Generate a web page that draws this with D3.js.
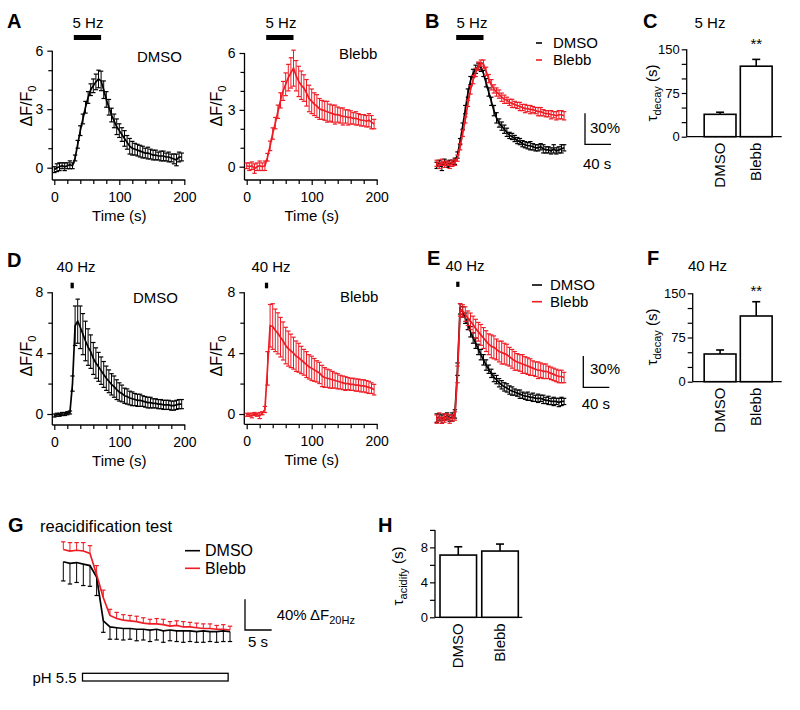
<!DOCTYPE html>
<html><head><meta charset="utf-8">
<script src="https://cdn.jsdelivr.net/npm/d3@7"></script>
<style>body{margin:0;background:#fff}svg{display:block}</style>
</head><body>
<script>
// ---------------- DATA ----------------
const time = [0,4,8,12,16,20,24,28,32,36,40,44,48,52,56,60,64,68,72,76,80,84,88,92,96,100,104,108,112,116,120,124,128,132,136,140,144,148,152,156,160,164,168,172,176,180,184,188,192,196];
// Panel A (dF/F0, 5 Hz)
const aDmso = [-0.1,0.0,0.05,0.1,0.05,0.1,0.15,0.1,0.5,1.2, 1.9,2.5,3.1,3.6,4.0,4.2,4.4,4.55,4.45,4.0, 3.5,3.1,2.7,2.4,2.1,1.9,1.7,1.5,1.3,1.1, 1.0,0.95,0.9,0.85,0.8,0.75,0.75,0.7,0.65,0.65, 0.6,0.6,0.6,0.55,0.55,0.5,0.45,0.4,0.55,0.55];
const aDmsoErr = [0.15,0.2,0.2,0.15,0.2,0.15,0.2,0.15,0.15,0.2, 0.25,0.25,0.3,0.3,0.3,0.35,0.4,0.45,0.5,0.45, 0.4,0.4,0.35,0.35,0.4,0.35,0.35,0.4,0.35,0.4, 0.35,0.3,0.3,0.3,0.3,0.25,0.3,0.25,0.25,0.25, 0.2,0.25,0.25,0.2,0.25,0.2,0.25,0.3,0.25,0.2];
const aBlebb = [0.05,0.0,0.05,-0.1,0.0,0.05,0.0,0.05,0.5,1.1, 1.75,2.3,2.9,3.5,4.0,4.35,4.7,4.95,5.2,4.8, 4.5,4.3,4.15,3.9,3.6,3.45,3.3,3.2,3.05,3.0, 2.95,2.9,2.85,2.8,2.75,2.75,2.7,2.65,2.65,2.6, 2.6,2.55,2.55,2.5,2.45,2.45,2.4,2.45,2.35,2.25];
const aBlebbErr = [0.15,0.2,0.2,0.25,0.2,0.25,0.2,0.25,0.2,0.25, 0.3,0.3,0.35,0.4,0.5,0.6,0.7,0.8,0.95,0.8, 0.8,0.75,0.7,0.7,0.7,0.65,0.6,0.6,0.55,0.5, 0.5,0.55,0.45,0.45,0.5,0.4,0.4,0.45,0.35,0.4, 0.35,0.3,0.35,0.3,0.3,0.3,0.3,0.35,0.35,0.25];
// Panel B (normalized %, 5 Hz)
const bDmso = [-2,0,-3,1,-1,0,1,2,8,21, 36,52,68,80,87,91,94,93,87,78, 69,60,51,44,39,36,33,30,27,26, 24,22,21,19,18,17,17,16,15,15, 16,14,13,13,12,14,12,13,14,15];
const bDmsoErr = [3,3,4,3,3,3,2,3,3,3, 3,4,4,4,4,4,3,4,3,4, 4,4,5,5,4,4,4,4,3,3, 3,3,3,3,3,3,4,3,3,3, 3,4,3,3,3,4,3,3,4,3];
const bBlebb = [0,-2,1,-1,0,-2,0,1,5,16, 29,42,58,71,81,88,94,97,96,89, 82,76,72,69,67,64,62,61,59,58, 57,56,55,54,53,53,52,52,51,50, 50,49,48,48,47,47,46,47,47,46];
const bBlebbErr = [3,3,3,3,2,3,3,3,3,3, 3,3,3,4,4,4,4,3,4,4, 4,5,4,4,4,4,4,3,3,4, 3,3,4,3,4,3,4,3,3,4, 4,3,3,3,4,3,4,4,4,4];
// Panel D (dF/F0, 40 Hz)
const dDmso = [-0.1,-0.05,-0.05,0,0,0.05,0.1,2.0,5.8,6.1, 5.7,5.25,4.8,4.4,4.1,3.65,3.35,3.1,2.85,2.6, 2.35,2.15,1.95,1.8,1.6,1.45,1.35,1.2,1.15,1.05, 1.0,0.95,0.9,0.9,0.85,0.8,0.75,0.75,0.7,0.7, 0.65,0.65,0.6,0.6,0.6,0.55,0.55,0.6,0.65,0.65];
const dDmsoErr = [0.1,0.1,0.1,0.1,0.1,0.1,0.1,0.5,1.3,1.45, 1.4,1.35,1.3,1.2,1.1,1.05,1.0,0.95,0.9,0.85, 0.8,0.75,0.7,0.7,0.65,0.6,0.55,0.5,0.5,0.45, 0.45,0.4,0.4,0.4,0.35,0.35,0.35,0.35,0.3,0.3, 0.3,0.3,0.3,0.3,0.3,0.3,0.3,0.3,0.3,0.3];
const dBlebb = [-0.05,-0.05,-0.1,0,-0.05,-0.1,0.05,0.3,3.0,5.8, 5.75,5.5,5.3,5.05,4.8,4.5,4.3,4.15,4.0,3.8, 3.7,3.55,3.4,3.25,3.1,3.0,2.9,2.8,2.7,2.5, 2.4,2.35,2.3,2.25,2.2,2.15,2.1,2.05,2.0,2.0, 1.95,1.95,1.9,1.9,1.85,1.85,1.8,1.75,1.7,1.6];
const dBlebbErr = [0.1,0.1,0.15,0.1,0.1,0.2,0.1,0.2,1.1,1.4, 1.5,1.4,1.35,1.3,1.25,1.2,1.15,1.1,1.05,1.0, 0.95,0.9,0.85,0.85,0.8,0.8,0.75,0.7,0.7,0.7, 0.65,0.6,0.6,0.55,0.5,0.5,0.45,0.45,0.45,0.4, 0.4,0.4,0.4,0.4,0.4,0.4,0.4,0.4,0.35,0.35];
// Panel E (normalized %, 40 Hz)
const eDmso = [-2,-1,-3,-1,0,-2,-1,2,45,103, 100,94,88,81,75,70,64,59,54,49, 45,41,37,35,32,30,28,27,25,24, 23,22,21,20,19,19,18,18,17,17, 17,16,15,15,14,14,14,13,14,14];
const eDmsoErr = [4,3,4,3,3,3,4,4,6,5, 5,5,5,5,5,5,5,5,5,5, 4,4,4,4,4,4,4,4,4,4, 3,3,4,3,3,4,3,4,3,4, 3,4,3,4,3,4,3,4,4,3];
const eBlebb = [-3,-1,-4,-2,-1,-3,-2,0,40,102, 101,98,94,91,88,84,81,78,75,72, 69,67,66,64,62,61,60,59,57,55, 53,52,51,50,49,48,47,46,45,44, 44,43,43,42,41,40,39,38,38,37];
const eBlebbErr = [4,4,3,4,3,4,3,4,8,6, 6,7,7,8,8,9,9,10,10,10, 10,11,11,10,10,11,10,10,9,9, 9,8,8,9,8,8,8,7,7,8, 7,7,7,6,6,6,6,6,6,5];
// Stimulus windows (s)
const stim5 = [30, 72];
const stim40D = [25, 30];
const stim40DB = [28, 33];
const stim40E = [30, 35];
// Panel G (reacidification, % dF20Hz)
const gTime = [0,1.25,2.5,3.75,5,6.25,7.5,8.75,10,11.25,12.5,13.75,15,16.25,17.5,18.75,20,21.25,22.5,23.75,25,26.25,27.5,28.75,30,31.25];
const gDmso = [102,100,101,99,97,82,25,17,16,15, 15,14,14,13,14,12,13,12,12,12, 11,12,11,11,12,11];
const gDmsoErr = [25,27,26,28,27,24,15,16,15,15, 14,15,14,15,14,15,14,14,15,14, 14,15,13,14,14,13];
const gBlebb = [118,116,117,116,113,85,55,32,28,26, 25,24,22,21,21,20,18,19,17,17, 16,15,15,14,14,13];
const gBlebbErr = [10,11,10,11,10,12,10,8,8,7, 7,7,7,6,7,7,6,6,7,6, 6,6,6,5,6,5];
const phWindow = [3.6, 30.9];
// Bar charts
const cats = ["DMSO", "Blebb"];
const tau5 = [38.4, 121];
const tau5Err = [3.6, 11.7];
const tau40 = [47, 111.5];
const tau40Err = [6.8, 24.2];
const tauAcid = [7.12, 7.58];
const tauAcidErr = [0.95, 0.8];
const xMajor = [0, 100, 200];
const xMinor = [20, 40, 60, 80, 120, 140, 160, 180];

// ---------------- DRAWING ----------------
const FONT = "'Liberation Sans', Arial, Helvetica, sans-serif";
const RED = "#ee1c25";
const svg = d3.select("body").append("svg").attr("width", 800).attr("height", 710)
  .style("font-family", FONT);

function text(x, y, s, size, opts = {}) {
  const t = svg.append("text").attr("x", x).attr("y", y).attr("font-size", size)
    .attr("fill", "#000").attr("text-anchor", opts.anchor || "start").text(s);
  if (opts.bold) t.attr("font-weight", "bold");
  return t;
}
function styleAxis(g, size) {
  g.selectAll("text").attr("font-size", size).attr("font-family", FONT).attr("fill", "#000");
  g.selectAll("line").attr("stroke", "#000").attr("stroke-width", 1.2);
  g.select(".domain").remove();
}
function trace(x, y, t, mean, err, color, mode) {
  const g = svg.append("g");
  const cw = 2.2;
  t.forEach((tt, i) => {
    const lo = mode === "up" ? mean[i] : mean[i] - err[i];
    const hi = mode === "down" ? mean[i] : mean[i] + err[i];
    const xx = x(tt);
    g.append("line").attr("x1", xx).attr("x2", xx).attr("y1", y(lo)).attr("y2", y(hi))
      .attr("stroke", color).attr("stroke-width", 1);
    if (mode !== "up") g.append("line").attr("x1", xx - cw).attr("x2", xx + cw).attr("y1", y(lo)).attr("y2", y(lo)).attr("stroke", color).attr("stroke-width", 1.2);
    if (mode !== "down") g.append("line").attr("x1", xx - cw).attr("x2", xx + cw).attr("y1", y(hi)).attr("y2", y(hi)).attr("stroke", color).attr("stroke-width", 1.2);
  });
  g.append("path").datum(mean).attr("fill", "none").attr("stroke", color).attr("stroke-width", 1.7)
    .attr("d", d3.line().x((d, i) => x(t[i])).y(d => y(d)));
}
function stimBar(x, win, y0, h) {
  svg.append("rect").attr("x", x(win[0])).attr("y", y0).attr("width", x(win[1]) - x(win[0]))
    .attr("height", h).attr("fill", "#000");
}
function yLabelDF(cx, cy) {
  const t = svg.append("text").attr("transform", `translate(${cx},${cy}) rotate(-90)`)
    .attr("text-anchor", "middle").attr("font-size", 16).attr("fill", "#000");
  t.append("tspan").text("\u0394F/F");
  t.append("tspan").attr("font-size", 11).attr("dy", 4).text("0");
}
function tauLabel(cx, cy, sub) {
  const t = svg.append("text").attr("transform", `translate(${cx},${cy}) rotate(-90)`)
    .attr("text-anchor", "middle").attr("font-size", 15).attr("fill", "#000");
  t.append("tspan").text("\u03C4");
  t.append("tspan").attr("font-size", 11).attr("dy", 4).text(sub);
  t.append("tspan").attr("dy", -4).text(" (s)");
}

function tracePanel(c) {
  const x = d3.scaleLinear().domain([0, 200]).range(c.xr);
  const y = d3.scaleLinear().domain(c.yd).range(c.yr);
  const gy = svg.append("g").attr("transform", `translate(${c.ax},0)`);
  gy.call(d3.axisLeft(y).tickValues(c.yMajor).tickSize(5).tickPadding(4).tickFormat(d3.format("d")));
  styleAxis(gy, 14);
  const gym = svg.append("g").attr("transform", `translate(${c.ax},0)`);
  gym.call(d3.axisLeft(y).tickValues(c.yMinor).tickSize(4).tickFormat(""));
  styleAxis(gym, 14);
  svg.append("line").attr("x1", c.ax).attr("x2", c.ax).attr("y1", y(c.yd[1])).attr("y2", c.axY)
    .attr("stroke", "#000").attr("stroke-width", 1.3);
  const gx = svg.append("g").attr("transform", `translate(0,${c.axY})`);
  gx.call(d3.axisBottom(x).tickValues(xMajor).tickSize(5).tickPadding(7).tickFormat(d3.format("d")));
  styleAxis(gx, 14);
  const gxm = svg.append("g").attr("transform", `translate(0,${c.axY})`);
  gxm.call(d3.axisBottom(x).tickValues(xMinor).tickSize(4).tickFormat(""));
  styleAxis(gxm, 14);
  svg.append("line").attr("x1", c.ax).attr("x2", x(200) + 1).attr("y1", c.axY).attr("y2", c.axY)
    .attr("stroke", "#000").attr("stroke-width", 1.3);
  text(x(100), c.axY + 41, "Time (s)", 15, { anchor: "middle" });
  yLabelDF(c.ylx, c.yly);
  trace(x, y, time, c.mean, c.err, c.color);
  stimBar(x, c.stim, c.stimY, c.stimH);
  text(c.hzX, c.hzY, c.hz, 15, { anchor: "middle" });
  text(c.nameX, c.nameY, c.name, 15);
}

function barPanel(c) {
  const y = d3.scaleLinear().domain(c.yd).range(c.yr);
  const xb = d3.scaleBand().domain(cats).range(c.br).paddingInner(c.pi).paddingOuter(0.06);
  const gy = svg.append("g").attr("transform", `translate(${c.ax},0)`);
  gy.call(d3.axisLeft(y).tickValues(c.ticks).tickSize(5).tickPadding(2)
    .tickFormat(d => c.labels.includes(d) ? d : ""));
  styleAxis(gy, 13);
  svg.append("line").attr("x1", c.ax).attr("x2", c.ax).attr("y1", y(c.yd[1])).attr("y2", y(0))
    .attr("stroke", "#000").attr("stroke-width", 1.3);
  svg.append("line").attr("x1", c.ax).attr("x2", c.xEnd).attr("y1", y(0)).attr("y2", y(0))
    .attr("stroke", "#000").attr("stroke-width", 1.3);
  const bw = xb.bandwidth();
  cats.forEach((k, i) => {
    const cx = xb(k) + bw / 2;
    svg.append("line").attr("x1", cx).attr("x2", cx).attr("y1", y(c.vals[i])).attr("y2", y(c.vals[i] + c.errs[i]))
      .attr("stroke", "#000").attr("stroke-width", 1.6);
    svg.append("line").attr("x1", cx - 4).attr("x2", cx + 4).attr("y1", y(c.vals[i] + c.errs[i])).attr("y2", y(c.vals[i] + c.errs[i]))
      .attr("stroke", "#000").attr("stroke-width", 1.6);
    svg.append("rect").attr("x", xb(k)).attr("y", y(c.vals[i])).attr("width", bw)
      .attr("height", y(0) - y(c.vals[i])).attr("fill", "#fff").attr("stroke", "#000").attr("stroke-width", 1.6);
    svg.append("text").attr("transform", `translate(${cx + 5},${y(0) + c.catGap}) rotate(-90)`)
      .attr("text-anchor", "end").attr("font-size", 15).attr("fill", "#000").text(k);
  });
  if (c.star) text(xb("Blebb") + bw / 2, c.starY, "**", 15, { anchor: "middle" });
  tauLabel(c.ylx, c.yly, c.sub);
}

function legend(x1, x2, xt, yb, yr, size) {
  [[yb, "#000", "DMSO"], [yr, RED, "Blebb"]].forEach(([yy, col, lab]) => {
    svg.append("line").attr("x1", x1).attr("x2", x2).attr("y1", yy).attr("y2", yy)
      .attr("stroke", col).attr("stroke-width", 1.6);
    svg.append("text").attr("x", xt).attr("y", yy).attr("dy", "0.36em").attr("font-size", size)
      .attr("fill", "#000").text(lab);
  });
}
function scaleBar(x, y, x0, yb, tx, ty) {
  const w = x(tx) - x(0), h = y(0) - y(ty);
  svg.append("path").attr("d", `M${x0},${yb - h}V${yb}H${x0 + w}`).attr("fill", "none")
    .attr("stroke", "#000").attr("stroke-width", 1.3);
}

// Panel letters
[["A", 7, 28], ["B", 425, 28], ["C", 643, 28], ["D", 7, 267], ["E", 427, 265], ["F", 647, 264.5], ["G", 8, 532], ["H", 378, 532]]
  .forEach(([l, x, y]) => text(x, y, l, 20, { bold: true }));

// A
tracePanel({ xr: [54.3, 184.3], yd: [0, 6], yr: [167.7, 50.7], ax: 52.3, axY: 180, yMajor: [0, 3, 6], yMinor: [1, 2, 4, 5],
  mean: aDmso, err: aDmsoErr, color: "#000", stim: stim5, stimY: 35, stimH: 5, hz: "5 Hz", hzX: 88, hzY: 28,
  name: "DMSO", nameX: 137, nameY: 62, ylx: 32, yly: 106 });
tracePanel({ xr: [246.7, 376.7], yd: [0, 6], yr: [166.7, 53], ax: 244.5, axY: 180, yMajor: [0, 3, 6], yMinor: [1, 2, 4, 5],
  mean: aBlebb, err: aBlebbErr, color: RED, stim: stim5, stimY: 35, stimH: 5, hz: "5 Hz", hzX: 281, hzY: 28,
  name: "Blebb", nameX: 339, nameY: 59, ylx: 222, yly: 106 });
// D
tracePanel({ xr: [54.3, 184.3], yd: [0, 8], yr: [414, 292.3], ax: 52.3, axY: 425, yMajor: [0, 4, 8], yMinor: [2, 6],
  mean: dDmso, err: dDmsoErr, color: "#000", stim: stim40D, stimY: 282.7, stimH: 5.6, hz: "40 Hz", hzX: 76, hzY: 271.5,
  name: "DMSO", nameX: 133, nameY: 303, ylx: 32, yly: 356 });
tracePanel({ xr: [246.7, 376.7], yd: [0, 8], yr: [414, 292.3], ax: 244.3, axY: 424.3, yMajor: [0, 4, 8], yMinor: [2, 6],
  mean: dBlebb, err: dBlebbErr, color: RED, stim: stim40DB, stimY: 282.7, stimH: 5.6, hz: "40 Hz", hzX: 271, hzY: 271.5,
  name: "Blebb", nameX: 340, nameY: 302, ylx: 222, yly: 356 });

// B
{
  const x = d3.scaleLinear().domain([0, 200]).range([436.7, 566.7]);
  const y = d3.scaleLinear().domain([0, 100]).range([163.3, 60]);
  trace(x, y, time, bDmso, bDmsoErr, "#000");
  trace(x, y, time, bBlebb, bBlebbErr, RED);
  stimBar(x, stim5, 35, 5);
  text(472, 28, "5 Hz", 15, { anchor: "middle" });
  legend(536, 542, 553, 43, 60, 15);
  scaleBar(x, y, 585, 144.3, 40, 30);
  text(590, 132.5, "30%", 15);
  text(583, 168.5, "40 s", 15);
}
// E
{
  const x = d3.scaleLinear().domain([0, 200]).range([436.7, 566.7]);
  const y = d3.scaleLinear().domain([0, 100]).range([416, 312]);
  trace(x, y, time, eDmso, eDmsoErr, "#000");
  trace(x, y, time, eBlebb, eBlebbErr, RED);
  stimBar(x, stim40E, 281.7, 5.2);
  text(465, 271, "40 Hz", 15, { anchor: "middle" });
  legend(532, 542, 550, 285, 301.7, 15);
  scaleBar(x, y, 583.3, 387.3, 40, 30);
  text(590, 373.5, "30%", 15);
  text(581.7, 408.5, "40 s", 15);
}
// C, F, H
barPanel({ yd: [0, 150], yr: [136.7, 49.3], br: [702, 774.3], pi: 0.12, ax: 686.7, xEnd: 781.7,
  ticks: [0, 25, 50, 75, 100, 125, 150], labels: [0, 75, 150], vals: tau5, errs: tau5Err, catGap: 6,
  star: true, starY: 48.5, ylx: 657, yly: 93, sub: "decay" });
text(710, 28, "5 Hz", 15, { anchor: "middle" });
barPanel({ yd: [0, 150], yr: [381.7, 293.3], br: [702, 774.3], pi: 0.12, ax: 692.7, xEnd: 781.7,
  ticks: [0, 25, 50, 75, 100, 125, 150], labels: [0, 75, 150], vals: tau40, errs: tau40Err, catGap: 6,
  star: true, starY: 296, ylx: 657, yly: 337, sub: "decay" });
text(707.5, 271, "40 Hz", 15, { anchor: "middle" });
barPanel({ yd: [0, 10], yr: [617.3, 529.9], br: [437.5, 520.8], pi: 0.125, ax: 435, xEnd: 522.3,
  ticks: [0, 2, 4, 6, 8, 10], labels: [0, 4, 8], vals: tauAcid, errs: tauAcidErr, catGap: 6,
  star: false, ylx: 403, yly: 576, sub: "acidify" });

// G
{
  const x = d3.scaleLinear().domain([0, 31.25]).range([63.3, 230]);
  const y = d3.scaleLinear().domain([0, 100]).range([640, 563.3]);
  trace(x, y, gTime, gDmso, gDmsoErr, "#000", "down");
  trace(x, y, gTime, gBlebb, gBlebbErr, RED, "up");
  text(40, 531.5, "reacidification test", 16.5);
  legend(185, 200, 205, 550.7, 568.3, 16);
  scaleBar(x, y, 245, 630, 5, 40);
  text(248, 647, "5 s", 15);
  const t = svg.append("text").attr("x", 276.7).attr("y", 620).attr("font-size", 15).attr("fill", "#000");
  t.append("tspan").text("40% \u0394F");
  t.append("tspan").attr("font-size", 11).attr("dy", 4).text("20Hz");
  svg.append("rect").attr("x", x(phWindow[0])).attr("y", 673.3).attr("width", x(phWindow[1]) - x(phWindow[0]))
    .attr("height", 7.7).attr("fill", "#fff").attr("stroke", "#000").attr("stroke-width", 1.3);
  text(76.7, 683, "pH 5.5", 15, { anchor: "end" });
}
</script>
</body></html>
